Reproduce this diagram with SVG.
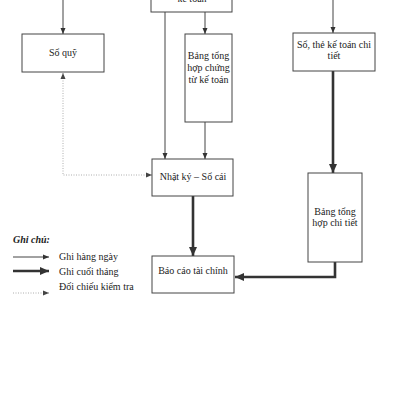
<svg xmlns="http://www.w3.org/2000/svg" width="400" height="400" viewBox="0 0 400 400">
<style>
  .box { fill: #fff; stroke: #444; stroke-width: 1; }
  .t { font-family: "Liberation Serif", "Times New Roman", serif; font-size: 10px; fill: #222; text-anchor: middle; }
  .lt { font-family: "Liberation Serif", "Times New Roman", serif; font-size: 10px; fill: #222; }
  .thin { fill: none; stroke: #444; stroke-width: 1; }
  .dbl { fill: none; stroke: #333; stroke-width: 2.6; }
  .dot { fill: none; stroke: #999; stroke-width: 0.8; stroke-dasharray: 1 1.5; }
</style>
<defs>
  <marker id="a" markerUnits="userSpaceOnUse" markerWidth="6" markerHeight="6" refX="6" refY="3" orient="auto">
    <path d="M0,0.5 L6,3 L0,5.5 Z" fill="#333"/>
  </marker>
  <marker id="ad" markerUnits="userSpaceOnUse" markerWidth="9" markerHeight="8" refX="9" refY="4" orient="auto">
    <path d="M0,0 L9,4 L0,8 Z" fill="#333"/>
  </marker>
  <marker id="as" markerUnits="userSpaceOnUse" markerWidth="6" markerHeight="6" refX="6" refY="3" orient="auto-start-reverse">
    <path d="M0,0.5 L6,3 L0,5.5 Z" fill="#444"/>
  </marker>
</defs>
<rect width="400" height="400" fill="#fff"/>

<g id="connectors">
  <line class="thin" x1="63" y1="0" x2="63" y2="34" marker-end="url(#a)"/>
  <line class="thin" x1="333" y1="0" x2="333" y2="33" marker-end="url(#a)"/>
  <line class="thin" x1="165" y1="12" x2="165" y2="159" marker-end="url(#a)"/>
  <line class="thin" x1="205" y1="12" x2="205" y2="34" marker-end="url(#a)"/>
  <line class="thin" x1="205" y1="122" x2="205" y2="159" marker-end="url(#a)"/>
  <polyline class="dot" points="63,73 63,175 152,175" marker-start="url(#as)" marker-end="url(#as)"/>
  <line class="dbl" x1="333" y1="71" x2="333" y2="173" marker-end="url(#ad)"/>
  <line class="dbl" x1="193" y1="196" x2="193" y2="256" marker-end="url(#ad)"/>
  <polyline class="dbl" points="335,262 335,277 235,277" marker-end="url(#ad)"/>
</g>

<g id="chung-tu">
  <rect class="box" x="151" y="-10" width="81" height="22"/>
  <text class="t" x="192" y="2">kế toán</text>
</g>

<g id="so-quy">
  <rect class="box" x="22" y="34" width="82" height="38"/>
  <text class="t" x="63" y="56">Sổ quỹ</text>
</g>

<g id="bang-tong-hop-chung-tu">
  <rect class="box" x="185" y="34" width="47" height="88"/>
  <text class="t" x="208.5" y="59">Bảng tổng</text>
  <text class="t" x="208.5" y="71">hợp chứng</text>
  <text class="t" x="208.5" y="83">từ kế toán</text>
</g>

<g id="so-the-chi-tiet">
  <rect class="box" x="293" y="33" width="82" height="38"/>
  <text class="t" x="334" y="48">Sổ, thẻ kế toán chi</text>
  <text class="t" x="334" y="59">tiết</text>
</g>

<g id="nhat-ky-so-cai">
  <rect class="box" x="152" y="159" width="81" height="37"/>
  <text class="t" x="193" y="180">Nhật ký – Sổ cái</text>
</g>

<g id="bang-tong-hop-chi-tiet">
  <rect class="box" x="308" y="173" width="54" height="89"/>
  <text class="t" x="335" y="215">Bảng tổng</text>
  <text class="t" x="335" y="226">hợp chi tiết</text>
</g>

<g id="bao-cao-tai-chinh">
  <rect class="box" x="152" y="256" width="82" height="37"/>
  <text class="t" x="193" y="274">Báo cáo tài chính</text>
</g>

<g id="legend">
  <text class="lt" x="13" y="243" font-weight="bold" font-style="italic">Ghi chú:</text>
  <line class="thin" x1="13" y1="257" x2="49" y2="257" marker-end="url(#a)"/>
  <text class="lt" x="59" y="260">Ghi hàng ngày</text>
  <line class="dbl" x1="13" y1="271" x2="49" y2="271" marker-end="url(#ad)"/>
  <text class="lt" x="59" y="275">Ghi cuối tháng</text>
  <line class="dot" x1="13" y1="293" x2="49" y2="293" marker-end="url(#as)"/>
  <text class="lt" x="59" y="290">Đối chiếu kiểm tra</text>
</g>
</svg>
